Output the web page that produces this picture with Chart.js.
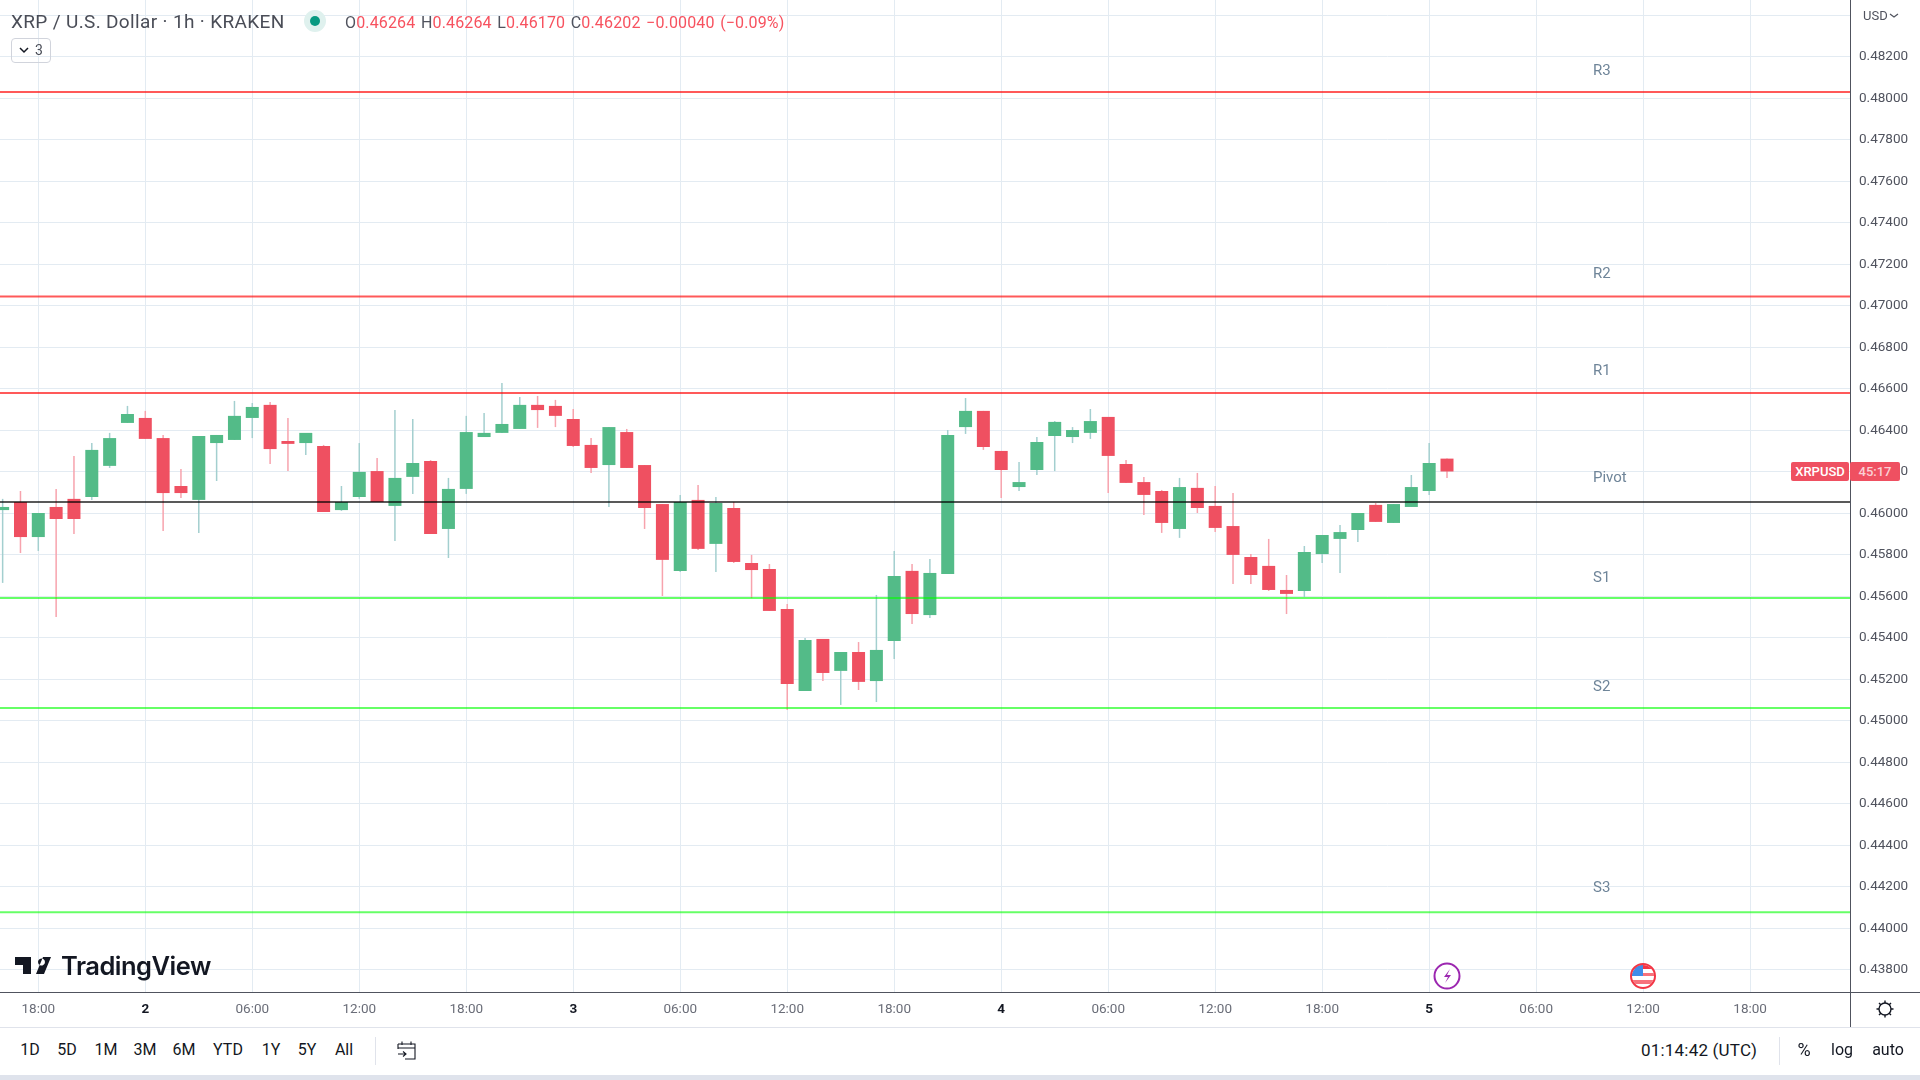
<!DOCTYPE html>
<html>
<head>
<meta charset="utf-8">
<title>XRP / U.S. Dollar</title>
<script src="https://cdn.jsdelivr.net/npm/chart.js@4"></script>
<style>
    html, body { margin: 0; padding: 0; background: #fff; overflow: hidden; }
    #page { position: relative; width: 1920px; height: 1080px; font-family: Roboto, sans-serif; color: #131722; }
    #chart { position: absolute; left: 0; top: 0; }
    .abs { position: absolute; white-space: nowrap; }
    .rule { position: absolute; background: #50535e; }
    .legend-title { left: 11px; top: 10px; font-size: 19px; letter-spacing: 0.35px; color: #4a4d57; }
    .ohlc { left: 345px; top: 13px; font-size: 16px; letter-spacing: 0.15px; word-spacing: 1.4px; color: #f7525f; }
    .ohlc b { font-weight: 400; color: #50535e; }
    .range { top: 1040px; font-size: 16px; transform: translateX(-50%); }
    .tag { background: #ef5061; color: #fff; height: 19px; line-height: 19px; top: 462px; font-size: 13px; text-align: center; border-radius: 2px; }
</style>
</head>
<body>
<div id="page">
    <canvas id="chart" width="1920" height="1027"></canvas>

    <div class="rule" style="left:0;top:992px;width:1920px;height:1px"></div>
    <div class="rule" style="left:1850px;top:0;width:1px;height:1027px"></div>

    <div class="abs legend-title">XRP / U.S. Dollar · 1h · KRAKEN</div>
    <svg class="abs" style="left:303px;top:9px" width="24" height="24">
        <circle cx="12" cy="12" r="11" fill="#dff1ee"/><circle cx="12" cy="12" r="5" fill="#089981"/>
    </svg>
    <div class="abs ohlc"><b>O</b>0.46264 <b>H</b>0.46264 <b>L</b>0.46170 <b>C</b>0.46202 −0.00040 (−0.09%)</div>
    <div class="abs" style="left:11px;top:38px;width:38px;height:23px;border:1px solid #d1d4dc;border-radius:4px;font-size:14px;line-height:23px;color:#4a4d57">
        <svg class="abs" style="left:7px;top:8px" width="10" height="7"><path d="M1 1l4 4 4-4" fill="none" stroke="#131722" stroke-width="1.5"/></svg>
        <span class="abs" style="left:23px">3</span>
    </div>

    <div class="abs" style="left:1863px;top:8px;font-size:13px;color:#50535e">USD</div>
    <svg class="abs" style="left:1889px;top:13px" width="10" height="7"><path d="M1 1l4 3 4-3" fill="none" stroke="#50535e" stroke-width="1.2"/></svg>

    <div class="abs tag" style="left:1791px;width:58px;font-weight:500">XRPUSD</div>
    <div class="abs tag" style="left:1850px;width:50px;color:#fbd0d5;font-weight:500">45:17</div>

    <svg class="abs" style="left:14px;top:956px" width="40" height="20" viewBox="0 0 40 20">
        <path d="M1 1h16v17h-8V9H1z M24 6a3.5 3.5 0 1 1 0 .01z M30 18l7-17h-8l-7 17z" fill="#131722"/>
    </svg>
    <div class="abs" style="left:61px;top:950px;font-family:Inter,sans-serif;font-weight:600;font-size:25.5px;letter-spacing:-0.5px;color:#131722">TradingView</div>

    <svg class="abs" style="left:1433px;top:962px" width="28" height="28">
        <circle cx="14" cy="14" r="12.5" fill="#fff" stroke="#9c27b0" stroke-width="2"/>
        <path d="M17 7l-6 8h4l-3 6 6-8h-4z" fill="#9c27b0"/>
    </svg>
    <svg class="abs" style="left:1629px;top:962px" width="28" height="28">
        <defs><clipPath id="flag"><circle cx="14" cy="14" r="11"/></clipPath></defs>
        <g clip-path="url(#flag)">
            <rect width="28" height="28" fill="#fff"/>
            <rect x="0" y="3" width="28" height="4" fill="#f23645"/>
            <rect x="0" y="11" width="28" height="3" fill="#f7727c"/>
            <rect x="0" y="18" width="28" height="4" fill="#f7727c"/>
            <rect x="0" y="3" width="14" height="11" fill="#3f8ce8"/>
        </g>
        <circle cx="14" cy="14" r="12" fill="none" stroke="#f23645" stroke-width="2"/>
    </svg>

    <svg class="abs" style="left:1875px;top:999px" width="20" height="20" fill="none" stroke="#131722" stroke-width="1.4">
        <circle cx="10" cy="10" r="6"/>
        <path d="M10 1.5v2.5M10 16v2.5M1.5 10H4M16 10h2.5M4 4l1.8 1.8M14.2 14.2L16 16M4 16l1.8-1.8M14.2 5.8L16 4"/>
    </svg>

    <div class="abs" style="left:0;top:1027px;width:1920px;height:1px;background:#e0e3eb"></div>
    <div class="abs" style="left:0;top:1075px;width:1920px;height:5px;background:#dfe3ec"></div>

    <div id="ranges"></div>
    <div class="abs" style="left:375px;top:1037px;width:1px;height:28px;background:#e0e3eb"></div>
    <svg class="abs" style="left:396px;top:1040px" width="21" height="21" fill="none" stroke="#131722" stroke-width="1.1">
        <path d="M2 4h17v15H9M2 4v5M2 8h17M6 1.5V5M15 1.5V5M2 14h8M7 11.5l3 2.5-3 2.5"/>
    </svg>
    <div class="abs" style="left:1641px;top:1040px;font-size:17px;letter-spacing:0.2px">01:14:42 (UTC)</div>
    <div class="abs" style="left:1779px;top:1037px;width:1px;height:28px;background:#e0e3eb"></div>
    <div class="abs range" style="left:1804px;font-size:18px;top:1039px">%</div>
    <div class="abs range" style="left:1842px">log</div>
    <div class="abs range" style="left:1888px">auto</div>
</div>

<script>
// Candles, one per hour, hour 0 is the 18:00 on the far left
const candleHours = [-2, -1, 0, 1, 2, 3, 4, 5, 6, 7, 8, 9, 10, 11, 12, 13, 14, 15, 16, 17, 18, 19, 20, 21, 22, 23, 24, 25, 26, 27, 28, 29, 30, 31, 32, 33, 34, 35, 36, 37, 38, 39, 40, 41, 42, 43, 44, 45, 46, 47, 48, 49, 50, 51, 52, 53, 54, 55, 56, 57, 58, 59, 60, 61, 62, 63, 64, 65, 66, 67, 68, 69, 70, 71, 72, 73, 74, 75, 76, 77, 78, 79];
const openPrices = [0.46016, 0.46055, 0.45886, 0.46031, 0.46070, 0.46079, 0.46229, 0.46436, 0.46460, 0.46363, 0.46132, 0.46065, 0.46339, 0.46354, 0.46460, 0.46523, 0.46349, 0.46339, 0.46325, 0.46016, 0.46079, 0.46204, 0.46036, 0.46176, 0.46253, 0.45925, 0.46118, 0.46368, 0.46388, 0.46407, 0.46523, 0.46518, 0.46455, 0.46330, 0.46233, 0.46392, 0.46233, 0.46045, 0.45723, 0.46065, 0.45853, 0.46026, 0.45761, 0.45732, 0.45539, 0.45144, 0.45395, 0.45241, 0.45332, 0.45192, 0.45385, 0.45723, 0.45510, 0.45708, 0.46416, 0.46494, 0.46301, 0.46127, 0.46209, 0.46373, 0.46368, 0.46388, 0.46465, 0.46238, 0.46151, 0.46108, 0.45925, 0.46123, 0.46036, 0.45939, 0.45790, 0.45747, 0.45631, 0.45626, 0.45804, 0.45877, 0.45920, 0.46041, 0.45954, 0.46031, 0.46108, 0.46264];
const highPrices = [0.46070, 0.46108, 0.46002, 0.46118, 0.46277, 0.46339, 0.46388, 0.46518, 0.46494, 0.46378, 0.46214, 0.46373, 0.46378, 0.46542, 0.46532, 0.46537, 0.46460, 0.46388, 0.46330, 0.46132, 0.46339, 0.46267, 0.46498, 0.46455, 0.46257, 0.46171, 0.46470, 0.46484, 0.46629, 0.46561, 0.46566, 0.46547, 0.46503, 0.46363, 0.46416, 0.46407, 0.46233, 0.46045, 0.46089, 0.46137, 0.46079, 0.46055, 0.45800, 0.45756, 0.45563, 0.45400, 0.45395, 0.45332, 0.45380, 0.45607, 0.45819, 0.45756, 0.45780, 0.46402, 0.46556, 0.46494, 0.46301, 0.46248, 0.46368, 0.46445, 0.46416, 0.46503, 0.46465, 0.46257, 0.46176, 0.46113, 0.46171, 0.46195, 0.46132, 0.46098, 0.45804, 0.45877, 0.45703, 0.45843, 0.45896, 0.45944, 0.46002, 0.46050, 0.46045, 0.46185, 0.46339, 0.46264];
const lowPrices = [0.45665, 0.45809, 0.45819, 0.45501, 0.45901, 0.46065, 0.46219, 0.46436, 0.46359, 0.45915, 0.46074, 0.45906, 0.46156, 0.46354, 0.46363, 0.46238, 0.46204, 0.46282, 0.46007, 0.46012, 0.46070, 0.46055, 0.45867, 0.46094, 0.45901, 0.45785, 0.46094, 0.46368, 0.46388, 0.46407, 0.46412, 0.46416, 0.46320, 0.46195, 0.46031, 0.46219, 0.45925, 0.45602, 0.45718, 0.45824, 0.45718, 0.45761, 0.45592, 0.45530, 0.45053, 0.45144, 0.45192, 0.45077, 0.45149, 0.45091, 0.45298, 0.45467, 0.45496, 0.45708, 0.46383, 0.46306, 0.46074, 0.46108, 0.46185, 0.46204, 0.46339, 0.46359, 0.46098, 0.46147, 0.45992, 0.45906, 0.45882, 0.46002, 0.45910, 0.45660, 0.45660, 0.45626, 0.45515, 0.45597, 0.45761, 0.45713, 0.45862, 0.45959, 0.45954, 0.46031, 0.46089, 0.46170];
const closePrices = [0.46031, 0.45886, 0.46002, 0.45973, 0.45973, 0.46306, 0.46363, 0.46479, 0.46359, 0.46098, 0.46098, 0.46373, 0.46378, 0.46470, 0.46513, 0.46310, 0.46335, 0.46388, 0.46007, 0.46055, 0.46200, 0.46055, 0.46171, 0.46243, 0.45901, 0.46118, 0.46392, 0.46388, 0.46431, 0.46523, 0.46498, 0.46470, 0.46325, 0.46219, 0.46416, 0.46219, 0.46026, 0.45776, 0.46055, 0.45829, 0.46050, 0.45766, 0.45727, 0.45530, 0.45178, 0.45390, 0.45231, 0.45332, 0.45188, 0.45342, 0.45698, 0.45515, 0.45713, 0.46378, 0.46494, 0.46320, 0.46209, 0.46151, 0.46344, 0.46441, 0.46402, 0.46445, 0.46277, 0.46147, 0.46089, 0.45954, 0.46127, 0.46026, 0.45930, 0.45800, 0.45703, 0.45631, 0.45612, 0.45814, 0.45896, 0.45910, 0.46002, 0.45959, 0.46045, 0.46127, 0.46243, 0.46202];

// Pivot levels
const levelNames = ["R3", "R2", "R1", "Pivot", "S1", "S2", "S3"];
const levelPrices = [0.48031, 0.47045, 0.4658, 0.46055, 0.45592, 0.45062, 0.44078];
const levelColors = ["rgba(255,0,0,.65)", "rgba(255,0,0,.65)", "rgba(255,0,0,.65)", "rgba(0,0,0,.65)", "rgba(0,255,0,.6)", "rgba(0,255,0,.6)", "rgba(0,255,0,.6)"];
const levelLabelGaps = [21, 22, 22, 24, 20, 21, 24];

// Axis ticks
const priceTicks = [0.438, 0.44, 0.442, 0.444, 0.446, 0.448, 0.45, 0.452, 0.454, 0.456, 0.458, 0.46, 0.462, 0.464, 0.466, 0.468, 0.47, 0.472, 0.474, 0.476, 0.478, 0.48, 0.482, 0.484];
const timeTickHours = [0, 6, 12, 18, 24, 30, 36, 42, 48, 54, 60, 66, 72, 78, 84, 90, 96];
const timeTickLabels = ["18:00", "2", "06:00", "12:00", "18:00", "3", "06:00", "12:00", "18:00", "4", "06:00", "12:00", "18:00", "5", "06:00", "12:00", "18:00"];

const rangeLabels = ["1D", "5D", "1M", "3M", "6M", "YTD", "1Y", "5Y", "All"];
const rangeCenters = [30, 67, 106, 145, 184, 228, 271, 307, 344];

const hourMin = -2.148;
const hourMax = 101.6;
const priceMin = 0.436935;
const priceMax = 0.484742;

const upColor = "#53bb88";
const downColor = "#ef5061";
const upWick = "#a3cfcf";
const downWick = "#f7a3ad";

const isUp = candleHours.map((h, i) => closePrices[i] >= openPrices[i]);

// Day ticks (single digit label) are bold
const isDayTick = (c) => timeTickLabels[c.index]?.length === 1;

// Pivot names sit above their lines
const levelLabelPlugin = {
    id: "levelLabels",
    afterDatasetsDraw(chart) {
        const { ctx, scales } = chart;
        ctx.save();
        ctx.font = "15px Roboto";
        ctx.fillStyle = "#6f8599";
        ctx.textBaseline = "middle";
        levelNames.forEach((name, i) => {
            ctx.fillText(name, 1593, scales.y.getPixelForValue(levelPrices[i]) - levelLabelGaps[i]);
        });
        ctx.restore();
    },
};

const levelDatasets = levelNames.map((name, i) => ({
    type: "line",
    label: name,
    data: [{ x: hourMin, y: levelPrices[i] }, { x: hourMax, y: levelPrices[i] }],
    borderColor: levelColors[i],
    borderWidth: 2,
    pointRadius: 0,
    order: 0,
}));

new Chart(document.getElementById("chart"), {
    type: "bar",
    data: {
        datasets: [
            {
                label: "wicks",
                data: candleHours.map((h, i) => ({ x: h, y: [lowPrices[i], highPrices[i]] })),
                backgroundColor: isUp.map((up) => (up ? upWick : downWick)),
                barThickness: 1.5,
                grouped: false,
                inflateAmount: 0,
                order: 2,
            },
            {
                label: "bodies",
                data: candleHours.map((h, i) => ({ x: h, y: [openPrices[i], closePrices[i]] })),
                backgroundColor: isUp.map((up) => (up ? upColor : downColor)),
                barThickness: 13,
                grouped: false,
                inflateAmount: 0,
                order: 1,
            },
            ...levelDatasets,
        ],
    },
    options: {
        responsive: false,
        animation: false,
        plugins: { legend: { display: false }, tooltip: { enabled: false } },
        layout: { padding: 0 },
        scales: {
            x: {
                type: "linear",
                offset: false,
                min: hourMin,
                max: hourMax,
                afterBuildTicks(scale) {
                    scale.ticks = timeTickHours.map((value) => ({ value }));
                },
                afterFit(scale) {
                    scale.height = 35;
                    scale.paddingLeft = 0;
                    scale.paddingRight = 0;
                },
                border: { display: false },
                grid: { color: "#e3ebf2", lineWidth: 1, drawTicks: false, offset: false },
                ticks: {
                    autoSkip: false,
                    maxRotation: 0,
                    padding: 10,
                    color: (c) => (isDayTick(c) ? "#131722" : "#6a6d78"),
                    font: (c) => ({
                        family: "Roboto",
                        size: 13.5,
                        weight: isDayTick(c) ? "bold" : "normal",
                    }),
                    callback: (value, index) => timeTickLabels[index],
                },
            },
            y: {
                position: "right",
                min: priceMin,
                max: priceMax,
                afterBuildTicks(scale) {
                    scale.ticks = priceTicks.map((value) => ({ value }));
                },
                afterFit(scale) {
                    scale.width = 70;
                    scale.paddingTop = 0;
                    scale.paddingBottom = 0;
                },
                border: { display: false },
                grid: { color: "#e3ebf2", lineWidth: 1, drawTicks: false },
                ticks: {
                    padding: 9,
                    color: "#50535e",
                    font: { family: "Roboto", size: 13.5 },
                    callback: (value) => (value >= 0.484 ? "" : value.toFixed(5)),
                },
            },
        },
    },
    plugins: [levelLabelPlugin],
});

// Range buttons in the bottom toolbar
const ranges = document.getElementById("ranges");
rangeLabels.forEach((text, i) => {
    const el = document.createElement("div");
    el.className = "abs range";
    el.style.left = rangeCenters[i] + "px";
    el.textContent = text;
    ranges.appendChild(el);
});
</script>
</body>
</html>
